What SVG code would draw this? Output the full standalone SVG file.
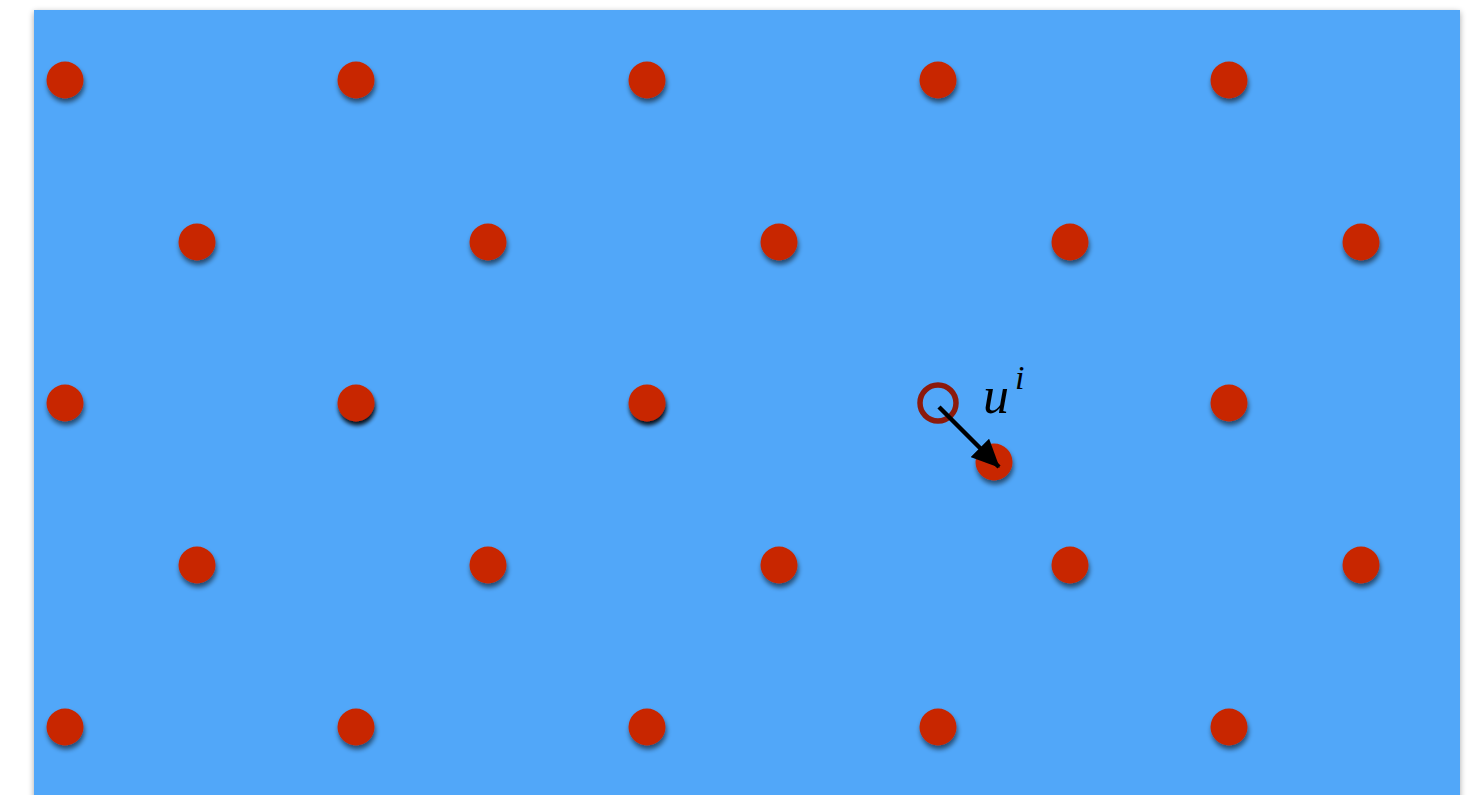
<svg xmlns="http://www.w3.org/2000/svg" width="1471" height="795" viewBox="0 0 1471 795">
<defs>
<filter id="bgsh" x="-5%" y="-5%" width="110%" height="110%"><feGaussianBlur in="SourceAlpha" stdDeviation="3"/><feOffset dx="0" dy="2"/><feComponentTransfer><feFuncA type="linear" slope="0.35"/></feComponentTransfer><feMerge><feMergeNode/><feMergeNode in="SourceGraphic"/></feMerge></filter>
<filter id="dsh" x="-50%" y="-50%" width="200%" height="220%"><feGaussianBlur in="SourceAlpha" stdDeviation="2.5"/><feOffset dx="1" dy="4"/><feComponentTransfer><feFuncA type="linear" slope="0.55"/></feComponentTransfer><feMerge><feMergeNode/><feMergeNode in="SourceGraphic"/></feMerge></filter>
<filter id="dsh2" x="-50%" y="-50%" width="200%" height="220%"><feGaussianBlur in="SourceAlpha" stdDeviation="2"/><feOffset dx="1" dy="4"/><feComponentTransfer><feFuncA type="linear" slope="0.9"/></feComponentTransfer><feMerge><feMergeNode/><feMergeNode in="SourceGraphic"/></feMerge></filter>
<marker id="ah" viewBox="0 0 28 26" refX="27" refY="13" markerWidth="28" markerHeight="26" orient="auto" markerUnits="userSpaceOnUse"><path d="M0,0 L28,13 L0,26 z" fill="#000"/></marker>
</defs>
<style>
.dot{fill:#C82506;filter:url(#dsh)}
.dot2{fill:#C82506;filter:url(#dsh2)}
.lbl{font-family:"Liberation Serif","DejaVu Serif",serif;font-style:italic;fill:#000}
</style>
<rect x="0" y="0" width="1471" height="795" fill="#fff"/>
<rect id="bg" x="34" y="10" width="1426" height="800" fill="#51A7F9" filter="url(#bgsh)"/>
<g id="row1">
<circle id="n1" class="dot" cx="65" cy="80" r="18.5"/>
<circle id="n2" class="dot" cx="356" cy="80" r="18.5"/>
<circle id="n3" class="dot" cx="647" cy="80" r="18.5"/>
<circle id="n4" class="dot" cx="938" cy="80" r="18.5"/>
<circle id="n5" class="dot" cx="1229" cy="80" r="18.5"/>
</g>
<g id="row2">
<circle id="n6" class="dot" cx="197" cy="242" r="18.5"/>
<circle id="n7" class="dot" cx="488" cy="242" r="18.5"/>
<circle id="n8" class="dot" cx="779" cy="242" r="18.5"/>
<circle id="n9" class="dot" cx="1070" cy="242" r="18.5"/>
<circle id="n10" class="dot" cx="1361" cy="242" r="18.5"/>
</g>
<g id="row3">
<circle id="n11" class="dot" cx="65" cy="403" r="18.5"/>
<circle id="n12" class="dot2" cx="356" cy="403" r="18.5"/>
<circle id="n13" class="dot2" cx="647" cy="403" r="18.5"/>
<circle id="n14" cx="938" cy="403" r="18" fill="none" stroke="#8C1A0C" stroke-width="5.5"/>
<circle id="n15" class="dot" cx="1229" cy="403" r="18.5"/>
<circle id="n16" class="dot" cx="994" cy="462" r="18.5"/>
</g>
<g id="row4">
<circle id="n17" class="dot" cx="197" cy="565" r="18.5"/>
<circle id="n18" class="dot" cx="488" cy="565" r="18.5"/>
<circle id="n19" class="dot" cx="779" cy="565" r="18.5"/>
<circle id="n20" class="dot" cx="1070" cy="565" r="18.5"/>
<circle id="n21" class="dot" cx="1361" cy="565" r="18.5"/>
</g>
<g id="row5">
<circle id="n22" class="dot" cx="65" cy="727" r="18.5"/>
<circle id="n23" class="dot" cx="356" cy="727" r="18.5"/>
<circle id="n24" class="dot" cx="647" cy="727" r="18.5"/>
<circle id="n25" class="dot" cx="938" cy="727" r="18.5"/>
<circle id="n26" class="dot" cx="1229" cy="727" r="18.5"/>
</g>
<g id="connectors">
<line x1="939" y1="407" x2="999" y2="467" stroke="#000" stroke-width="4.5" marker-end="url(#ah)"/>
</g>
<g id="label">
<text class="lbl" x="983" y="413" font-size="52">u</text>
<text class="lbl" x="1015" y="389" font-size="34">i</text>
</g>
</svg>
